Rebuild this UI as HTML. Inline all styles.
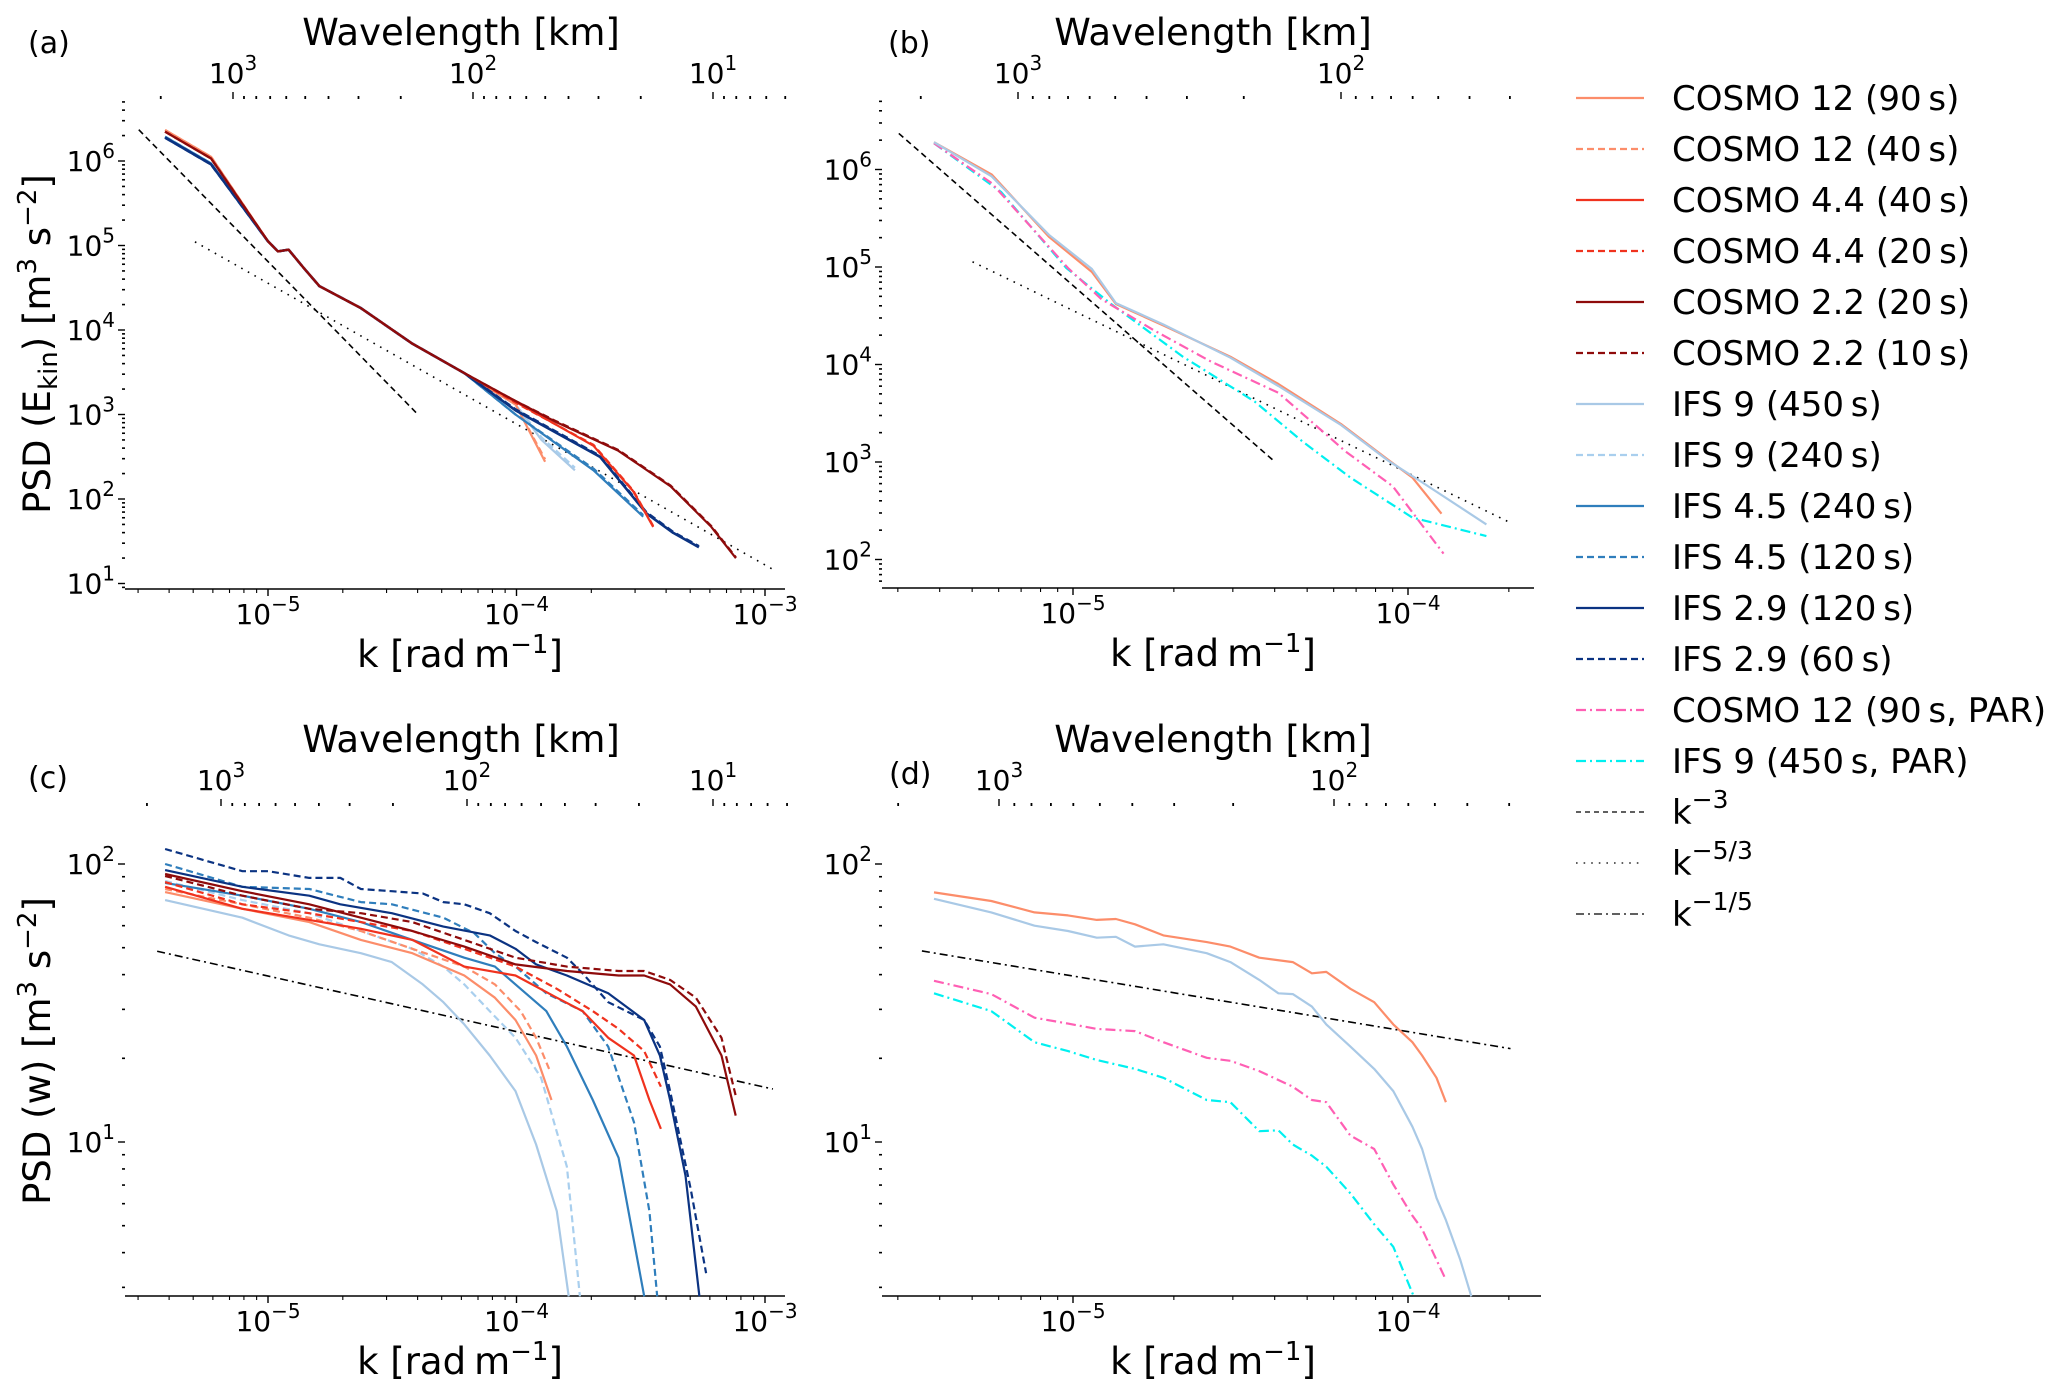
<!DOCTYPE html>
<html><head><meta charset="utf-8"><style>
html,body{margin:0;padding:0;background:#fff}
svg{display:block;font-family:"DejaVu Sans","Liberation Sans",sans-serif}
</style></head><body>
<svg id="fig" xmlns="http://www.w3.org/2000/svg" width="2067" height="1397" viewBox="0 0 2067 1397"></svg>
<script>
// ===== Data (log10 k [rad/m], log10 PSD) =====
// Panel (a): kinetic energy spectra
const aBaseK = [-5.414,-5.229,-5.0,-4.96,-4.917,-4.855,-4.793,-4.627,-4.42,-4.21,-4.004];
const aBaseV = [6.347,6.03,5.05,4.93,4.95,4.73,4.52,4.26,3.84,3.49,3.12];
const aC22K = [-3.84,-3.59,-3.38,-3.216,-3.117];
const aC22V = [2.91,2.57,2.15,1.67,1.30];
const aC44K = [-3.69,-3.53,-3.45];
const aC44V = [2.63,2.09,1.67];
const aI29K = [-3.664,-3.477,-3.37,-3.266];
const aI29V = [2.5,1.83,1.6,1.43];
const aI45K = [-3.69,-3.49];
const aI45V = [2.34,1.79];
const aC12K = [-3.885];
const aC12V = [2.44];
const aI9K = [-3.9,-3.765];
const aI9V = [2.7,2.34];
// Panel (b)
const bOrangeK = [-5.415,-5.243,-5.072,-4.944,-4.872,-4.73,-4.53,-4.387,-4.2,-4.058,-3.987,-3.9];
const bOrangeV = [6.28,5.95,5.31,4.95,4.62,4.40,4.08,3.80,3.39,3.02,2.84,2.47];
const bLightK = [-5.415,-5.243,-5.072,-4.944,-4.872,-4.73,-4.53,-4.387,-4.2,-4.058,-3.957,-3.766];
const bLightV = [6.28,5.93,5.33,4.98,4.63,4.41,4.07,3.78,3.38,3.01,2.79,2.36];
const bPinkK = [-5.415,-5.243,-5.015,-4.915,-4.758,-4.588,-4.387,-4.187,-4.045,-3.894];
const bPinkV = [6.27,5.86,4.99,4.67,4.35,4.03,3.71,3.11,2.75,2.06];
const bCyanK = [-5.415,-5.215,-5.02,-4.886,-4.672,-4.458,-4.315,-4.172,-3.987,-3.766];
const bCyanV = [6.27,5.77,4.99,4.62,4.08,3.62,3.21,2.84,2.43,2.24];
// Panel (c): vertical velocity spectra
const cI29dK = [-5.414,-5.103,-5.0,-4.834,-4.709,-4.626,-4.502,-4.377,-4.294,-4.21,-4.108,-4.004,-3.921,-3.797,-3.734,-3.631,-3.486,-3.423,-3.382,-3.299,-3.237];
const cI29dV = [2.054,1.974,1.974,1.95,1.95,1.91,1.902,1.894,1.863,1.855,1.823,1.759,1.719,1.663,1.607,1.503,1.439,1.343,1.183,0.831,0.528];
const cI29K = [-5.414,-5.103,-4.834,-4.709,-4.502,-4.294,-4.108,-4.004,-3.921,-3.797,-3.631,-3.486,-3.423,-3.382,-3.320,-3.264];
const cI29V = [1.978,1.918,1.886,1.855,1.823,1.775,1.743,1.695,1.639,1.599,1.535,1.439,1.311,1.151,0.879,0.445];
const cI45dK = [-5.414,-5.103,-4.834,-4.626,-4.502,-4.294,-4.170,-4.087,-4.004,-3.880,-3.734,-3.631,-3.527,-3.465,-3.434];
const cI45dV = [2.0,1.918,1.91,1.863,1.855,1.807,1.751,1.679,1.631,1.535,1.471,1.343,1.071,0.751,0.445];
const cI45K = [-5.414,-5.103,-4.834,-4.626,-4.419,-4.21,-4.087,-4.004,-3.880,-3.797,-3.693,-3.589,-3.486];
const cI45V = [1.932,1.886,1.839,1.791,1.727,1.663,1.631,1.567,1.471,1.343,1.151,0.943,0.445];
const cI9K = [-5.414,-5.103,-4.917,-4.793,-4.626,-4.502,-4.377,-4.294,-4.21,-4.108,-4.004,-3.921,-3.838,-3.790];
const cI9V = [1.870,1.807,1.743,1.711,1.679,1.647,1.567,1.503,1.423,1.311,1.183,0.991,0.751,0.445];
const cI9dK = [-5.414,-5.103,-4.834,-4.626,-4.419,-4.294,-4.21,-4.108,-4.004,-3.901,-3.797,-3.745];
const cI9dV = [1.939,1.870,1.823,1.759,1.695,1.631,1.567,1.471,1.375,1.231,0.911,0.445];
const cC12K = [-5.414,-5.103,-4.834,-4.626,-4.419,-4.21,-4.087,-4.004,-3.921,-3.859];
const cC12V = [1.899,1.839,1.791,1.727,1.679,1.599,1.519,1.439,1.311,1.151];
const cC12dK = [-5.414,-5.103,-4.834,-4.626,-4.419,-4.21,-4.087,-3.983,-3.921,-3.869];
const cC12dV = [1.91,1.855,1.807,1.759,1.695,1.631,1.567,1.471,1.375,1.263];
const cC44K = [-5.414,-5.103,-4.834,-4.626,-4.419,-4.21,-4.004,-3.838,-3.734,-3.631,-3.527,-3.465,-3.419];
const cC44V = [1.918,1.839,1.799,1.767,1.727,1.631,1.599,1.519,1.471,1.375,1.311,1.151,1.047];
const cC44dK = [-5.414,-5.103,-4.834,-4.626,-4.419,-4.21,-4.004,-3.838,-3.693,-3.589,-3.486,-3.419];
const cC44dV = [1.935,1.855,1.823,1.791,1.759,1.695,1.631,1.551,1.471,1.407,1.327,1.199];
const cC22K = [-5.414,-5.103,-4.834,-4.626,-4.419,-4.21,-4.004,-3.797,-3.589,-3.486,-3.382,-3.278,-3.175,-3.118];
const cC22V = [1.964,1.902,1.855,1.807,1.759,1.703,1.639,1.615,1.599,1.599,1.567,1.487,1.311,1.095];
const cC22dK = [-5.414,-5.103,-4.834,-4.626,-4.419,-4.21,-4.004,-3.797,-3.589,-3.486,-3.382,-3.278,-3.175,-3.118];
const cC22dV = [1.957,1.886,1.839,1.823,1.791,1.727,1.663,1.631,1.615,1.615,1.583,1.519,1.375,1.167];
// Panel (d)
const dOrangeK = [-5.415,-5.244,-5.115,-5.015,-4.929,-4.872,-4.815,-4.730,-4.601,-4.530,-4.444,-4.344,-4.287,-4.244,-4.172,-4.101,-4.044,-3.987,-3.958,-3.915,-3.887];
const dOrangeV = [1.898,1.867,1.826,1.815,1.799,1.802,1.783,1.743,1.719,1.703,1.663,1.647,1.607,1.612,1.551,1.503,1.423,1.359,1.311,1.231,1.143];
const dLightK = [-5.415,-5.244,-5.115,-5.015,-4.929,-4.872,-4.815,-4.730,-4.601,-4.530,-4.444,-4.387,-4.344,-4.287,-4.244,-4.172,-4.101,-4.044,-3.987,-3.958,-3.915,-3.887,-3.844,-3.811];
const dLightV = [1.875,1.826,1.778,1.759,1.735,1.738,1.703,1.711,1.679,1.647,1.583,1.535,1.532,1.487,1.423,1.343,1.263,1.183,1.055,0.975,0.799,0.719,0.576,0.445];
const dPinkK = [-5.415,-5.244,-5.115,-5.015,-4.929,-4.815,-4.730,-4.601,-4.530,-4.444,-4.344,-4.287,-4.244,-4.172,-4.101,-4.044,-3.987,-3.958,-3.915,-3.887];
const dPinkV = [1.580,1.532,1.447,1.426,1.407,1.399,1.359,1.303,1.292,1.255,1.199,1.151,1.143,1.023,0.975,0.847,0.735,0.687,0.576,0.504];
const dCyanK = [-5.415,-5.244,-5.115,-5.015,-4.929,-4.815,-4.730,-4.601,-4.530,-4.444,-4.387,-4.344,-4.287,-4.244,-4.172,-4.101,-4.044,-3.983];
const dCyanV = [1.535,1.471,1.359,1.327,1.295,1.263,1.231,1.151,1.143,1.039,1.042,0.991,0.951,0.911,0.815,0.704,0.623,0.445];
// Reference power laws: log10 C and exponent, k ranges (log10)
const refKm3 = {logC:-10.19, p:-3, a:[-5.52,-4.394], b:[-5.52,-4.40]};
const refKm53 = {logC:-3.78, p:-5/3, a:[-5.294,-2.968], b:[-5.30,-3.694]};
const refKm15 = {logC:0.597, p:-0.2, c:[-5.446,-2.968], d:[-5.451,-3.694]};
// Tick labels
const kTickExps = [-5,-4,-3];
const lamTickExps = [3,2,1];

// ===== Drawing =====
const NS='http://www.w3.org/2000/svg';
const svg=document.getElementById('fig');
function el(tag,attrs,parent){const e=document.createElementNS(NS,tag);for(const k in attrs)e.setAttribute(k,attrs[k]);(parent||svg).appendChild(e);return e;}
const COL={c12:'#fc8d6a',c44:'#f0321e',c22:'#8e0b0b',i9:'#a9c9e6',i9d:'#a9cfee',i45:'#2f7ebc',i29:'#0b3382',pink:'#ff5fb4',cyan:'#00f0f0'};
const DASH='7,4', DD='10,4,2,4';

const P={
 a:{x0:125,x1:785,xk:268,dk:248.5,yT:161,lvT:6,dv:84.5,yb:589,ytop:99,lamX:233,lamD:240,lamRange:[0.7,3.3],yTicks:[1,2,3,4,5,6],vmin:0.93,vmax:6.73},
 b:{x0:882,x1:1534,xk:1073,dk:335,yT:169.5,lvT:6,dv:97.5,yb:588,ytop:99,lamX:1018,lamD:323,lamRange:[1.47,3.3],yTicks:[2,3,4,5,6],vmin:1.71,vmax:6.72},
 c:{x0:125,x1:785,xk:268,dk:248.5,yT:864,lvT:2,dv:278,yb:1296,ytop:806,lamX:221,lamD:246,lamRange:[0.7,3.3],yTicks:[1,2],vmin:0.445,vmax:2.21},
 d:{x0:882,x1:1541,xk:1073,dk:335,yT:864,lvT:2,dv:278,yb:1296,ytop:806,lamX:999,lamD:335,lamRange:[1.47,3.3],yTicks:[1,2],vmin:0.445,vmax:2.21}
};
function X(p,lk){return p.xk+p.dk*(lk+5);}
function Y(p,lv){return p.yT+p.dv*(p.lvT-lv);}

function series(p,ks,vs,color,dash,name,w){
  let d='';ks.forEach((k,i)=>{d+=(i?'L':'M')+X(p,k).toFixed(1)+','+Y(p,vs[i]).toFixed(1);});
  const e=el('path',{d:d,fill:'none',stroke:color,'stroke-width':w||2.2,'stroke-linejoin':'round'});
  if(dash)e.setAttribute('stroke-dasharray',dash);
  
  
}
function powerLine(p,ref,range,dash,name){
  const lk0=range[0],lk1=range[1];
  const e=el('line',{x1:X(p,lk0),y1:Y(p,ref.logC+ref.p*lk0),x2:X(p,lk1),y2:Y(p,ref.logC+ref.p*lk1),stroke:'#000','stroke-width':1.6,'stroke-dasharray':dash});
  
  
}
function txt(x,y,s,size,anchor,name,parent){
  const t=el('text',{x:x,y:y,'font-size':size,'text-anchor':anchor||'start',fill:'#000'},parent);
  t.innerHTML=s;
  
  
  return t;
}
const SUP=(s)=>'<tspan dy="-13" font-size="20">'+s+'</tspan>';

function axes(p,id){
  const g=el('g',{});
  
  
  el('line',{x1:p.x0,y1:p.yb,x2:p.x1,y2:p.yb,stroke:'#000','stroke-width':1.6},g);
  const lkMin=(p.x0-p.xk)/p.dk-5, lkMax=(p.x1-p.xk)/p.dk-5;
  for(let e=-6;e<=-3;e++){for(let m=1;m<10;m++){const lk=e+Math.log10(m);if(lk<lkMin||lk>lkMax)continue;const x=X(p,lk);
    el('line',{x1:x,y1:p.yb,x2:x,y2:p.yb+(m===1?7:4),stroke:'#000','stroke-width':m===1?1.4:1.1},g);}}
  kTickExps.forEach(e=>{if(e<lkMin-0.01||e>lkMax+0.05)return;txt(X(p,e),p.yb+35,'10'+SUP('−'+(-e)),28,'middle','k-tick-label',g);});
  for(let e=0;e<=7;e++){for(let m=1;m<10;m++){const lv=e+Math.log10(m);if(lv<p.vmin||lv>p.vmax)continue;const y=Y(p,lv);
    el('line',{x1:p.x0-(m===1?7:3),y1:y,x2:p.x0,y2:y,stroke:'#000','stroke-width':m===1?1.4:1.6},g);}}
  p.yTicks.forEach(e=>{txt(p.x0-10,Y(p,e)+10,'10'+SUP(e),28,'end','y-tick-label',g);});
  const lam=(ll)=>p.lamX+p.lamD*(3-ll);
  for(let e=0;e<=3;e++){for(let m=1;m<10;m++){const ll=e+Math.log10(m);if(ll<p.lamRange[0]-0.01||ll>p.lamRange[1]+0.01)continue;const x=lam(ll);
    el('line',{x1:x,y1:p.ytop-(m===1?7:3),x2:x,y2:p.ytop,stroke:'#000','stroke-width':m===1?1.4:1.8},g);}}
  lamTickExps.forEach(e=>{if(e<p.lamRange[0]-0.01)return;txt(lam(e),p.ytop-16,'10'+SUP(e),28,'middle','wavelength-tick-label',g);});
  txt(id==='a'||id==='c'?461:1213,p.ytop-54,'Wavelength [km]',37,'middle','wavelength-axis-title',g);
  txt(id==='a'||id==='c'?460:1213,p.yb+78,'k [rad<tspan dx="8">m</tspan>'+'<tspan dy="-14" font-size="26">−1</tspan><tspan dy="14">]</tspan>',37,'middle','k-axis-title',g);
}
txt(28,53,'(a)',30,'start','panel-label-a');
txt(888,53,'(b)',30,'start','panel-label-b');
txt(28,788,'(c)',30,'start','panel-label-c');
txt(889,784,'(d)',30,'start','panel-label-d');

['a','b','c','d'].forEach(id=>axes(P[id],id));
const ya=txt(0,0,'PSD (E<tspan font-size="26" dy="7">kin</tspan><tspan dy="-7">) [m</tspan><tspan dy="-14" font-size="26">3</tspan><tspan dy="14"> s</tspan><tspan dy="-14" font-size="26">−2</tspan><tspan dy="14">]</tspan>',37,'middle','y-axis-title-ekin');
ya.setAttribute('transform','translate(50,344) rotate(-90)');
const yc=txt(0,0,'PSD (w) [m<tspan dy="-14" font-size="26">3</tspan><tspan dy="14"> s</tspan><tspan dy="-14" font-size="26">−2</tspan><tspan dy="14">]</tspan>',37,'middle','y-axis-title-w');
yc.setAttribute('transform','translate(50,1051) rotate(-90)');

// ---- Panel a series ----
const pa=P.a;
const nB=aBaseV.length;
function cat(aK,aV,k,v,dv0){return [aK.concat(k), aV.map((x,i)=>x+(i<2?dv0:0)).concat(v)];}
powerLine(pa,refKm3,refKm3.a,'6,4','a-ref-k-3');
powerLine(pa,refKm53,refKm53.a,'1.6,6','a-ref-k-5-3');
let s;
s=cat(aBaseK,aBaseV,aI9K,aI9V,0.0);series(pa,s[0],s[1],COL.i9,null,'a-ifs9-450s');
s=cat(aBaseK,aBaseV,aI9K,aI9V.map(v=>v+0.03),0.0);series(pa,s[0],s[1],COL.i9d,DASH,'a-ifs9-240s');
s=cat(aBaseK,aBaseV,aC12K,aC12V,0.02);series(pa,s[0],s[1],COL.c12,null,'a-cosmo12-90s');
s=cat(aBaseK,aBaseV,aC12K,aC12V.map(v=>v+0.03),0.02);series(pa,s[0],s[1],COL.c12,DASH,'a-cosmo12-40s');
s=cat(aBaseK,aBaseV.map((v,i)=>i>=nB-1?3.0:v),aI45K,aI45V,-0.06);series(pa,s[0],s[1],COL.i45,null,'a-ifs45-240s');
s=cat(aBaseK,aBaseV.map((v,i)=>i>=nB-1?3.0:v),aI45K,aI45V.map(v=>v+0.02),-0.06);series(pa,s[0],s[1],COL.i45,DASH,'a-ifs45-120s');
s=cat(aBaseK,aBaseV.map((v,i)=>i>=nB-1?3.05:v),aI29K,aI29V,-0.07);series(pa,s[0],s[1],COL.i29,null,'a-ifs29-120s',2.6);
s=cat(aBaseK,aBaseV.map((v,i)=>i>=nB-1?3.06:v),aI29K,aI29V.map(v=>v+0.01),-0.07);series(pa,s[0],s[1],COL.i29,DASH,'a-ifs29-60s',2.6);
s=cat(aBaseK,aBaseV.map((v,i)=>i>=nB-1?3.15:v),aC44K,aC44V,0.0);series(pa,s[0],s[1],COL.c44,null,'a-cosmo44-40s');
s=cat(aBaseK,aBaseV.map((v,i)=>i>=nB-1?3.14:v),aC44K,aC44V.map(v=>v+0.01),0.0);series(pa,s[0],s[1],COL.c44,DASH,'a-cosmo44-20s');
s=cat(aBaseK,aBaseV.map((v,i)=>i>=nB-1?3.16:v),aC22K,aC22V,0.0);series(pa,s[0],s[1],COL.c22,null,'a-cosmo22-20s');
s=cat(aBaseK,aBaseV.map((v,i)=>i>=nB-1?3.16:v),aC22K,aC22V.map(v=>v+0.01),0.0);series(pa,s[0],s[1],COL.c22,DASH,'a-cosmo22-10s');

// ---- Panel b ----
const pb=P.b;
powerLine(pb,refKm3,refKm3.b,'6,4','b-ref-k-3');
powerLine(pb,refKm53,refKm53.b,'1.6,6','b-ref-k-5-3');
series(pb,bCyanK,bCyanV,COL.cyan,DD,'b-ifs9-par');
series(pb,bPinkK,bPinkV,COL.pink,DD,'b-cosmo12-par');
series(pb,bOrangeK,bOrangeV,COL.c12,null,'b-cosmo12-90s');
series(pb,bLightK,bLightV,COL.i9,null,'b-ifs9-450s');

// ---- Panel c ----
const pc=P.c;
powerLine(pc,refKm15,refKm15.c,'8,4,2,4','c-ref-k-1-5');
series(pc,cI9K,cI9V,COL.i9,null,'c-ifs9-450s');
series(pc,cI9dK,cI9dV,COL.i9d,DASH,'c-ifs9-240s');
series(pc,cC12K,cC12V,COL.c12,null,'c-cosmo12-90s');
series(pc,cC12dK,cC12dV,COL.c12,DASH,'c-cosmo12-40s');
series(pc,cI45K,cI45V,COL.i45,null,'c-ifs45-240s');
series(pc,cI45dK,cI45dV,COL.i45,DASH,'c-ifs45-120s');
series(pc,cC44K,cC44V,COL.c44,null,'c-cosmo44-40s');
series(pc,cC44dK,cC44dV,COL.c44,DASH,'c-cosmo44-20s');
series(pc,cI29K,cI29V,COL.i29,null,'c-ifs29-120s');
series(pc,cI29dK,cI29dV,COL.i29,DASH,'c-ifs29-60s');
series(pc,cC22K,cC22V,COL.c22,null,'c-cosmo22-20s');
series(pc,cC22dK,cC22dV,COL.c22,DASH,'c-cosmo22-10s');

// ---- Panel d ----
const pd=P.d;
powerLine(pd,refKm15,refKm15.d,'8,4,2,4','d-ref-k-1-5');
series(pd,dCyanK,dCyanV,COL.cyan,DD,'d-ifs9-par');
series(pd,dPinkK,dPinkV,COL.pink,DD,'d-cosmo12-par');
series(pd,dLightK,dLightV,COL.i9,null,'d-ifs9-450s');
series(pd,dOrangeK,dOrangeV,COL.c12,null,'d-cosmo12-90s');

// ---- Legend ----
const legLabels=['COSMO 12 (90\u2009s)','COSMO 12 (40\u2009s)','COSMO 4.4 (40\u2009s)','COSMO 4.4 (20\u2009s)','COSMO 2.2 (20\u2009s)','COSMO 2.2 (10\u2009s)','IFS 9 (450\u2009s)','IFS 9 (240\u2009s)','IFS 4.5 (240\u2009s)','IFS 4.5 (120\u2009s)','IFS 2.9 (120\u2009s)','IFS 2.9 (60\u2009s)','COSMO 12 (90\u2009s, PAR)','IFS 9 (450\u2009s, PAR)'];
const legColors=[COL.c12,COL.c12,COL.c44,COL.c44,COL.c22,COL.c22,COL.i9,COL.i9d,COL.i45,COL.i45,COL.i29,COL.i29,COL.pink,COL.cyan];
const legDash=[null,DASH,null,DASH,null,DASH,null,DASH,null,DASH,null,DASH,DD,DD];
const lg=el('g',{});


legLabels.forEach((lab,i)=>{
  const y=98+51*i;
  const ln=el('line',{x1:1576,y1:y,x2:1644,y2:y,stroke:legColors[i],'stroke-width':2.2},lg);
  if(legDash[i])ln.setAttribute('stroke-dasharray',legDash[i]);
  
  
  txt(1672,y+12,lab,34,'start','legend-entry',lg);
});
const refLabs=['−3','−5/3','−1/5'];const refDash=['5,4','1.6,6','8,4,2,4'];
refLabs.forEach((r,i)=>{
  const y=98+51*(14+i);
  const ln=el('line',{x1:1576,y1:y,x2:1644,y2:y,stroke:'#000','stroke-width':1.3,'stroke-dasharray':refDash[i]},lg);
  
  
  txt(1672,y+12,'k<tspan dy="-16" font-size="25">'+r+'</tspan>',34,'start','legend-entry',lg);
});
</script>
</body></html>
